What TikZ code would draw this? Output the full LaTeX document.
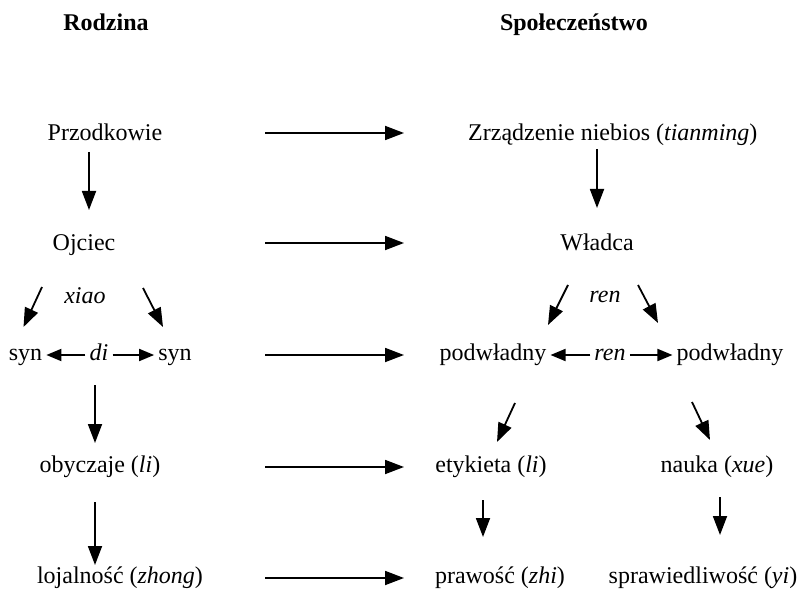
\documentclass[tikz,border=0pt]{standalone}
\usepackage{fontspec}
\setmainfont{Liberation Serif}
\usetikzlibrary{arrows.meta}
\tikzset{
  term/.style={inner sep=0pt,text height=16pt,text depth=5pt,
               font=\fontsize{24}{28}\selectfont},
  head/.style={term,font=\fontsize{24}{28}\selectfont\bfseries},
  link/.style={term,font=\fontsize{24}{28}\selectfont\itshape},
  arrow/.style={-{Triangle[length=19pt,width=14pt]},line width=1.8pt},
  shortarrow/.style={-{Triangle[length=15pt,width=12pt]},line width=1.8pt,
                     shorten <=4pt,shorten >=4pt}
}
\begin{document}
\begin{tikzpicture}[x=1pt,y=-1pt]
\useasboundingbox (0,0) rectangle (801,591);
\node[head] (rodz) at (106,25) {Rodzina};
\node[head] (spol) at (574,25) {Społeczeństwo};
\node[term] (przod) at (105,135) {Przodkowie};
\node[term] (ojc) at (84,245) {Ojciec};
\node[link] (xiao) at (85,298) {xiao};
\node[term] (syn1) at (25.5,355) {syn};
\node[link] (di) at (99,355) {di};
\node[term] (syn2) at (175,355) {syn};
\node[term] (obycz) at (100,467) {obyczaje (\textit{li})};
\node[term] (lojal) at (120,578) {lojalność (\textit{zhong})};
\node[term,anchor=west] (tian) at (468,135) {Zrządzenie niebios (\textit{tianming})};
\node[term] (wladca) at (597,245) {Władca};
\node[link] (ren1) at (605,297) {ren};
\node[term] (pod1) at (493,355) {podwładny};
\node[link] (ren2) at (610,355) {ren};
\node[term] (pod2) at (730,355) {podwładny};
\node[term] (etyk) at (491,467) {etykieta (\textit{li})};
\node[term] (nauka) at (717,467) {nauka (\textit{xue})};
\node[term] (praw) at (500,578) {prawość (\textit{zhi})};
\node[term] (spraw) at (703,578) {sprawiedliwość (\textit{yi})};
\foreach \y [count=\i] in {133,243,355,467,578}{
  \coordinate (from\i) at (265,\y);
  \coordinate (to\i) at (404,\y);
  \draw[arrow] (from\i) -- (to\i);
}
\draw[arrow] ([shift={(-16,17)}]przod.center) -- ([shift={(5,-35)}]ojc.center);
\draw[arrow] ([shift={(-42,42)}]ojc.center) -- ([shift={(-2,-28)}]syn1.center);
\draw[arrow] ([shift={(59,43)}]ojc.center) -- ([shift={(-12,-28)}]syn2.center);
\draw[shortarrow] (di.west) -- (syn1.east);
\draw[shortarrow] (di.east) -- (syn2.west);
\draw[arrow] ([shift={(-4,30)}]di.center) -- ([shift={(-5,-24)}]obycz.center);
\draw[arrow] ([shift={(-5,35)}]obycz.center) -- ([shift={(-25,-13)}]lojal.center);
\draw[arrow] ([shift={(129,14)}]tian.west) -- ([shift={(0,-37)}]wladca.center);
\draw[arrow] ([shift={(-29,40)}]wladca.center) -- ([shift={(55,-30)}]pod1.center);
\draw[arrow] ([shift={(41,40)}]wladca.center) -- ([shift={(-72,-32)}]pod2.center);
\draw[shortarrow] (ren2.west) -- (pod1.east);
\draw[shortarrow] (ren2.east) -- (pod2.west);
\draw[arrow] ([shift={(22,48)}]pod1.center) -- ([shift={(6,-25)}]etyk.center);
\draw[arrow] ([shift={(-38,47)}]pod2.center) -- ([shift={(-7,-27)}]nauka.center);
\draw[arrow] ([shift={(-8,33)}]etyk.center) -- ([shift={(-17,-41)}]praw.center);
\draw[arrow] ([shift={(3,30)}]nauka.center) -- ([shift={(17,-43)}]spraw.center);
\end{tikzpicture}
\end{document}
